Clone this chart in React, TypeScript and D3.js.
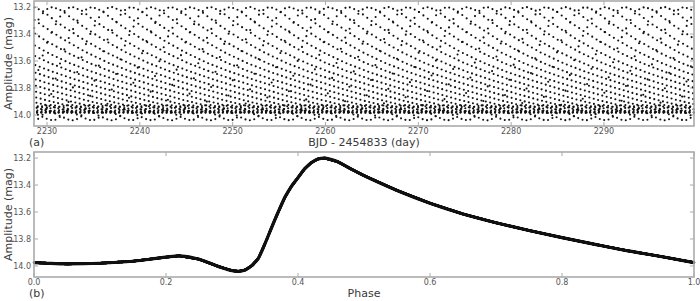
import React, { useEffect, useRef } from 'react';
import * as d3 from 'd3';

// phase-folded light curve
const phaseKnots = [0, 0.02, 0.05, 0.1, 0.15, 0.2, 0.22, 0.25, 0.28, 0.3, 0.31, 0.32, 0.33, 0.34, 0.35, 0.36, 0.37, 0.38, 0.39, 0.4, 0.41, 0.42, 0.43, 0.44, 0.46, 0.48, 0.5, 0.55, 0.6, 0.65, 0.7, 0.75, 0.8, 0.85, 0.9, 0.95, 1.0];
const magKnots = [13.975, 13.98, 13.985, 13.98, 13.965, 13.935, 13.925, 13.95, 14.005, 14.035, 14.04, 14.03, 13.998, 13.943, 13.835, 13.715, 13.6, 13.492, 13.41, 13.345, 13.28, 13.235, 13.207, 13.2, 13.227, 13.28, 13.33, 13.44, 13.535, 13.615, 13.68, 13.737, 13.79, 13.84, 13.888, 13.93, 13.975];

// observing window and sampling (panel a)
const timeStart = 2228.62;
const timeEnd = 2299.7;
const cadence = 0.0204336; // Kepler long cadence, days
const period = 0.4655;
const epoch = 2228.9;

const timeTicks = [2230, 2240, 2250, 2260, 2270, 2280, 2290];
const phaseTicks = [0, 0.2, 0.4, 0.6, 0.8, 1.0];
const magTicks = [13.2, 13.4, 13.6, 13.8, 14.0];
const magDomain = [13.155, 14.082];

const App = () => {
    const svgRef = useRef<SVGSVGElement>(null);

    useEffect(() => {
        if (!svgRef.current) return;
        const svg = d3.select(svgRef.current);
        svg.selectAll("*").remove();

        const left = 34, right = 694;
        const frameColor = "#aaaaaa";
        const tickColor = "#555";
        const labelColor = "#3a3a3a";
        const font = "DejaVu Sans, sans-serif";

        const magAt = d3.scaleLinear().domain(phaseKnots).range(magKnots);

        const series: { t: number; ph: number; m: number }[] = [];
        const n = Math.floor((timeEnd - timeStart) / cadence);
        for (let i = 0; i <= n; i++) {
            const t = timeStart + i * cadence;
            let ph = ((t - epoch) / period) % 1;
            if (ph < 0) ph += 1;
            series.push({ t, ph, m: magAt(ph) });
        }

        const drawPanel = (top: number, bottom: number, x: d3.ScaleLinear<number, number>, xTicks: number[], xFmt: (d: number) => string) => {
            const y = d3.scaleLinear().domain(magDomain).range([top, bottom]);
            const g = svg.append("g");

            magTicks.forEach(v => {
                g.append("line").attr("x1", left).attr("x2", left + 4).attr("y1", y(v)).attr("y2", y(v))
                    .attr("stroke", frameColor).attr("stroke-width", 1);
                g.append("line").attr("x1", right - 4).attr("x2", right).attr("y1", y(v)).attr("y2", y(v))
                    .attr("stroke", frameColor).attr("stroke-width", 1);
                g.append("text").attr("x", left - 3).attr("y", y(v) + 3).attr("text-anchor", "end")
                    .attr("font-family", font).attr("font-size", 8).attr("fill", tickColor)
                    .text(v.toFixed(1));
            });
            xTicks.forEach(v => {
                g.append("line").attr("x1", x(v)).attr("x2", x(v)).attr("y1", bottom).attr("y2", bottom - 4)
                    .attr("stroke", frameColor).attr("stroke-width", 1);
                g.append("line").attr("x1", x(v)).attr("x2", x(v)).attr("y1", top).attr("y2", top + 4)
                    .attr("stroke", frameColor).attr("stroke-width", 1);
                g.append("text").attr("x", x(v)).attr("y", bottom + 8).attr("text-anchor", "middle")
                    .attr("font-family", font).attr("font-size", 8).attr("fill", tickColor)
                    .text(xFmt(v));
            });

            g.append("text")
                .attr("transform", `translate(12,${(top + bottom) / 2}) rotate(-90)`)
                .attr("text-anchor", "middle")
                .attr("font-family", font).attr("font-size", 11).attr("fill", labelColor)
                .text("Amplitude (mag)");
            return { g, y };
        };

        // panel (a)
        const xa = d3.scaleLinear().domain([timeStart - 0.02, timeEnd]).range([left, right]);
        const a = drawPanel(1, 126, xa, timeTicks, d => String(d));
        a.g.append("g").selectAll("circle")
            .data(series)
            .enter()
            .append("circle")
            .attr("cx", d => xa(d.t))
            .attr("cy", d => a.y(d.m))
            .attr("r", 1.05)
            .style("fill", "#111");
        a.g.append("rect").attr("x", left).attr("y", 1).attr("width", right - left).attr("height", 125)
            .attr("fill", "none").attr("stroke", frameColor).attr("stroke-width", 1.6);
        a.g.append("text").attr("x", 29).attr("y", 146).attr("font-family", font).attr("font-size", 11)
            .attr("fill", labelColor).text("(a)");
        a.g.append("text").attr("x", (left + right) / 2).attr("y", 146).attr("text-anchor", "middle")
            .attr("font-family", font).attr("font-size", 11).attr("fill", labelColor).text("BJD - 2454833 (day)");

        // panel (b)
        const xb = d3.scaleLinear().domain([0, 1]).range([left, right]);
        const b = drawPanel(152, 277, xb, phaseTicks, d => d.toFixed(1));
        const line = d3.line<number>()
            .x((d, i) => xb(phaseKnots[i]))
            .y(d => b.y(d))
            .curve(d3.curveMonotoneX);
        b.g.append("path").attr("d", line(magKnots) || "")
            .attr("fill", "none").attr("stroke", "#161616").attr("stroke-width", 3.2);
        b.g.append("g").selectAll("circle")
            .data(series)
            .enter()
            .append("circle")
            .attr("cx", d => xb(d.ph))
            .attr("cy", d => b.y(d.m))
            .attr("r", 1.3)
            .style("fill", "#111");
        b.g.append("rect").attr("x", left).attr("y", 152).attr("width", right - left).attr("height", 125)
            .attr("fill", "none").attr("stroke", frameColor).attr("stroke-width", 1.6);
        b.g.append("text").attr("x", 29).attr("y", 297).attr("font-family", font).attr("font-size", 11)
            .attr("fill", labelColor).text("(b)");
        b.g.append("text").attr("x", (left + right) / 2).attr("y", 297).attr("text-anchor", "middle")
            .attr("font-family", font).attr("font-size", 11).attr("fill", labelColor).text("Phase");
    }, []);

    return (
        <div style={{ position: 'absolute', left: 0, top: 0, width: 700, height: 301, background: '#fff' }}>
            <svg ref={svgRef} width={700} height={301}></svg>
        </div>
    );
};

export default App;
